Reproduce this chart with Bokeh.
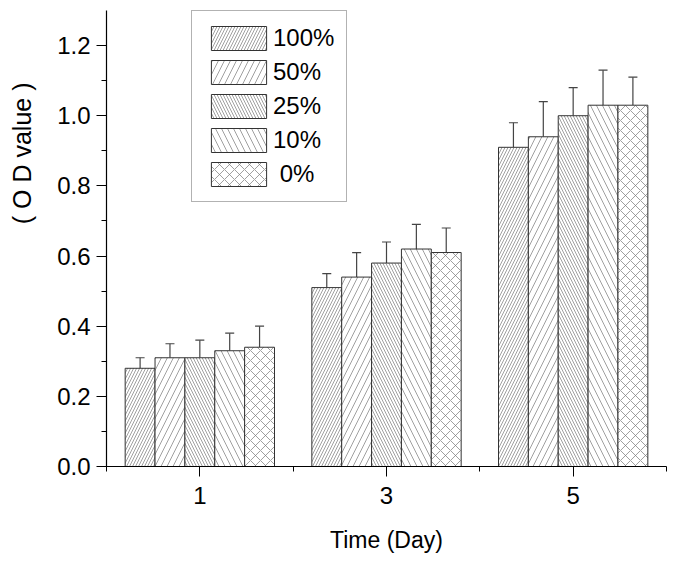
from bokeh.plotting import figure
from bokeh.models import (ColumnDataSource, Range1d, FixedTicker, SingleIntervalTicker,
                          PrintfTickFormatter, Legend, LegendItem, Whisker, TeeHead, Title)
from bokeh.embed import file_html
from bokeh.resources import INLINE

# ---- data ----
days = [1, 3, 5]
series = ["100%", "50%", "25%", "10%", " 0%"]
od_100 = [0.28, 0.51, 0.91]
od_50 = [0.31, 0.54, 0.94]
od_25 = [0.31, 0.58, 1.00]
od_10 = [0.33, 0.62, 1.03]
od_0 = [0.34, 0.61, 1.03]
err_100 = [0.03, 0.04, 0.07]
err_50 = [0.04, 0.07, 0.10]
err_25 = [0.05, 0.06, 0.08]
err_10 = [0.05, 0.07, 0.10]
err_0 = [0.06, 0.07, 0.08]
y_ticks_interval = 0.2
x_title = "Time (Day)"
y_title = "( O D value )"

values = [od_100, od_50, od_25, od_10, od_0]
errors = [err_100, err_50, err_25, err_10, err_0]

# styles
hatches = [("right_diagonal_line", 6), ("right_diagonal_line", 12),
           ("left_diagonal_line", 6), ("left_diagonal_line", 12),
           ("diagonal_cross", 10)]
bar_w = 0.32
n = len(series)

FONT = "Liberation Sans"

p = figure(width=676, height=561, output_backend="svg", toolbar_location=None,
           x_range=Range1d(0, 6), y_range=Range1d(0, 1.3),
           min_border_left=106, min_border_right=10, min_border_top=10, min_border_bottom=95)
p.outline_line_color = None
p.xgrid.visible = False
p.ygrid.visible = False
p.background_fill_color = "white"

items = []
for i, (name, vals, errs) in enumerate(zip(series, values, errors)):
    off = (i - (n - 1) / 2) * bar_w
    xs = [d + off for d in days]
    src = ColumnDataSource(dict(x=xs, top=vals, up=[v + e for v, e in zip(vals, errs)]))
    pat, sc = hatches[i]
    r = p.vbar(x="x", top="top", width=bar_w, bottom=0, source=src,
               fill_color="white", line_color="#333333", line_width=1,
               hatch_pattern=pat, hatch_scale=sc, hatch_color="#777777", hatch_weight=0.7)
    w = Whisker(base="x", lower="top", upper="up", source=src, dimension="height",
                line_color="#444444", line_width=1.2,
                upper_head=TeeHead(size=9, line_color="#444444", line_width=1.2),
                lower_head=None)
    p.add_layout(w)
    items.append(LegendItem(label=name, renderers=[r]))

legend = Legend(items=items, location=(85, 264), glyph_width=69, glyph_height=30,
                label_height=24, spacing=4, padding=12, margin=0, label_standoff=0,
                label_text_font=FONT, label_text_font_size="24px", label_text_color="black",
                border_line_color="#666666", border_line_width=1.5,
                background_fill_color="white", background_fill_alpha=1)
p.add_layout(legend)

# axes
p.xaxis.ticker = FixedTicker(ticks=days, minor_ticks=[0, 2, 4, 6])
p.yaxis.ticker = SingleIntervalTicker(interval=y_ticks_interval, num_minor_ticks=2)
p.yaxis.formatter = PrintfTickFormatter(format="%.1f")
for ax in (p.xaxis[0], p.yaxis[0]):
    ax.axis_line_color = "black"
    ax.axis_line_width = 1.2
    ax.major_tick_line_color = "black"
    ax.minor_tick_line_color = "black"
    ax.major_tick_in = 0
    ax.minor_tick_in = 0
    ax.major_tick_out = 10
    ax.minor_tick_out = 5
    ax.major_label_text_font = FONT
    ax.major_label_text_font_size = "24px"
    ax.major_label_text_color = "black"
p.yaxis.major_label_standoff = 6
p.xaxis.major_label_standoff = 10
p.xaxis.axis_label = x_title
p.xaxis.axis_label_text_font = FONT
p.xaxis.axis_label_text_font_size = "23px"
p.xaxis.axis_label_text_font_style = "normal"
p.xaxis.axis_label_text_color = "black"
p.xaxis.axis_label_standoff = 20

# spacer between the y tick labels and the y title
spacer = Title(text=" ", text_font_size="1px", standoff=10)
p.add_layout(spacer, "left")
ytitle = Title(text=y_title, align="right", offset=72, standoff=10, vertical_align="middle",
               text_font=FONT, text_font_size="25px", text_font_style="normal",
               text_color="black")
p.add_layout(ytitle, "left")

open("out.html", "w").write(file_html(p, INLINE))
